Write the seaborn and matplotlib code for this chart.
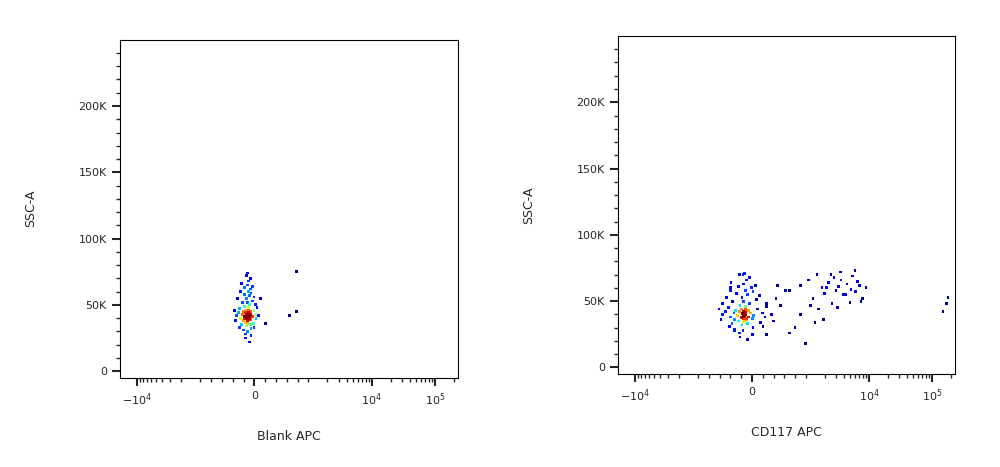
import numpy as np
import matplotlib
matplotlib.use("Agg")
import matplotlib.pyplot as plt
import seaborn as sns
from matplotlib.ticker import FixedLocator, FuncFormatter

sns.set_style("white")
plt.rcParams['font.family'] = ['DejaVu Sans']

left_x = [-130,-95,-165,-110,-150,-75,-185,-130,-60,-200,-110,-150,-95,-165,-40,-220,-130,-75,-185,-110,
          -5,-255,-150,-60,-200,-95,-130,15,-275,-110,-165,-40,-240,-75,-185,-20,-290,-130,-60,-220,
          30,-330,-110,-165,-5,-255,-75,-200,50,-345,-150,-40,-240,-95,-5,-310,-130,70,-365,-60,
          -185,15,-275,-110,-150,-75,-130,-110,-95,-150,-120,-140,-105,-130,-155,-85,-175,-120,-140,-105,
          650,780,780,200,120]
left_y = [42000,40000,44000,38000,46000,43000,41000,36000,39000,45000,48000,34000,50000,37000,41000,43000,52000,35000,49000,44000,
          46000,40000,55000,32000,38000,57000,30000,43000,47000,60000,28000,53000,35000,62000,58000,36000,44000,65000,27000,52000,
          40000,42000,68000,25000,56000,60000,70000,31000,48000,38000,72000,64000,66000,22000,33000,55000,74000,42000,46000,59000,
          63000,50000,33000,46000,40000,45000,43000,41000,39000,44000,42000,40500,43500,38500,42500,41500,39500,37500,44500,45500,
          42000,45000,75000,36000,55000]

right_x = [-150,-65,-235,-100,-200,-30,-270,-150,5,-305,-115,-185,-50,-250,35,-335,-150,-80,-220,-135,
           105,-405,-185,20,-320,-80,-165,190,-440,-115,-235,90,-370,-15,-285,155,-490,-150,5,-355,
           240,-540,-100,-220,140,-405,-50,-320,275,-575,-165,70,-390,-80,205,-475,-135,360,-610,20,
           -250,275,-420,-115,-185,-65,-150,-135,-100,-165,-140,-160,-125,-150,-175,-110,-195,-140,-160,-125,
           445,530,615,400,475,-405,-540,-320,-235,275,
           700,900,1100,1300,1500,1800,2000,2300,2600,3000,3300,3600,4000,4500,5000,5500,6200,7000,8000,9000,
           1200,1600,2100,2800,3500,4300,5200,6500,900,1400,1900,2500,3200,6000,7500,800,1000,700,
           150000,170000,180000]
right_y = [40000,38000,42000,36000,44000,41000,39000,34000,37000,43000,46000,32000,48000,35000,39000,41000,50000,33000,47000,42000,
           44000,38000,53000,30000,36000,55000,28000,41000,45000,58000,26000,51000,33000,60000,56000,34000,42000,63000,25000,50000,
           38000,40000,66000,23000,54000,58000,68000,29000,46000,36000,70000,62000,64000,21000,31000,53000,71000,40000,44000,57000,
           61000,48000,31000,44000,38000,43000,41000,39000,37000,42000,40000,38500,41500,36500,40500,39500,37500,35500,42500,43500,
           52000,47000,58000,35000,62000,60000,48000,28000,70000,25000,
           58000,62000,66000,52000,70000,60000,56000,64000,48000,58000,61000,66000,55000,63000,49000,69000,57000,62000,52000,60000,
           47000,44000,60000,68000,72000,55000,59000,65000,40000,34000,36000,70000,45000,73000,50000,30000,18000,26000,
           42000,48000,53000]

panels = [(left_x, left_y, "Blank APC", [0.120, 0.191, 0.338, 0.724]),
          (right_x, right_y, "CD117 APC", [0.618, 0.199, 0.337, 0.724])]

cmap = matplotlib.colormaps['jet']
fig = plt.figure(figsize=(10, 4.67), dpi=100)
for xs, ys, xlabel, rect in panels:
    ax = fig.add_axes(rect)
    ax.set_xscale('symlog', linthresh=1000, linscale=0.77)
    ax.set_xlim(-18600, 232000)
    ax.set_ylim(-5000, 250000)
    xs = np.array(xs, float); ys = np.array(ys, float)
    pts = ax.transData.transform(np.column_stack([xs, ys]))
    d = np.sqrt(((pts[:, None, :] - pts[None, :, :]) ** 2).sum(-1))
    dens = (d < 8).sum(1).astype(float)
    order = np.argsort(dens)
    sns.scatterplot(x=xs[order], y=ys[order], hue=dens[order], palette=cmap, s=4,
                    marker='s', linewidth=0, legend=False, ax=ax,
                    hue_norm=(1, dens.max()))
    major = [-1e4, 0, 1e4, 1e5]
    ax.xaxis.set_major_locator(FixedLocator(major))
    ax.xaxis.set_major_formatter(FuncFormatter(
        lambda v, p: {-1e4: r'$-10^4$', 0: '0', 1e4: r'$10^4$', 1e5: r'$10^5$'}.get(v, '')))
    minor = [-9000,-8000,-7000,-6000,-5000,-4000,-3000,-2000,-1000,-800,-600,-400,-200,
             200,400,600,800,1000,2000,3000,4000,5000,6000,7000,8000,9000,
             20000,30000,40000,50000,60000,70000,80000,90000,200000]
    ax.xaxis.set_minor_locator(FixedLocator(minor))
    ax.set_yticks([0, 50000, 100000, 150000, 200000])
    ax.set_yticklabels(['0', '50K', '100K', '150K', '200K'])
    ax.yaxis.set_minor_locator(FixedLocator(np.arange(10000, 250000, 10000)))
    ax.tick_params(axis='both', which='major', direction='out', length=6, width=1.5,
                   labelsize=8, bottom=True, left=True)
    ax.tick_params(axis='both', which='minor', direction='out', length=3, width=1,
                   bottom=True, left=True)
    for s in ax.spines.values():
        s.set_color('black'); s.set_linewidth(0.8)
    ax.set_xlabel(xlabel, fontsize=9, labelpad=16)
    ax.set_ylabel('SSC-A', fontsize=9, labelpad=30)

fig.savefig('out.png', dpi=100)
